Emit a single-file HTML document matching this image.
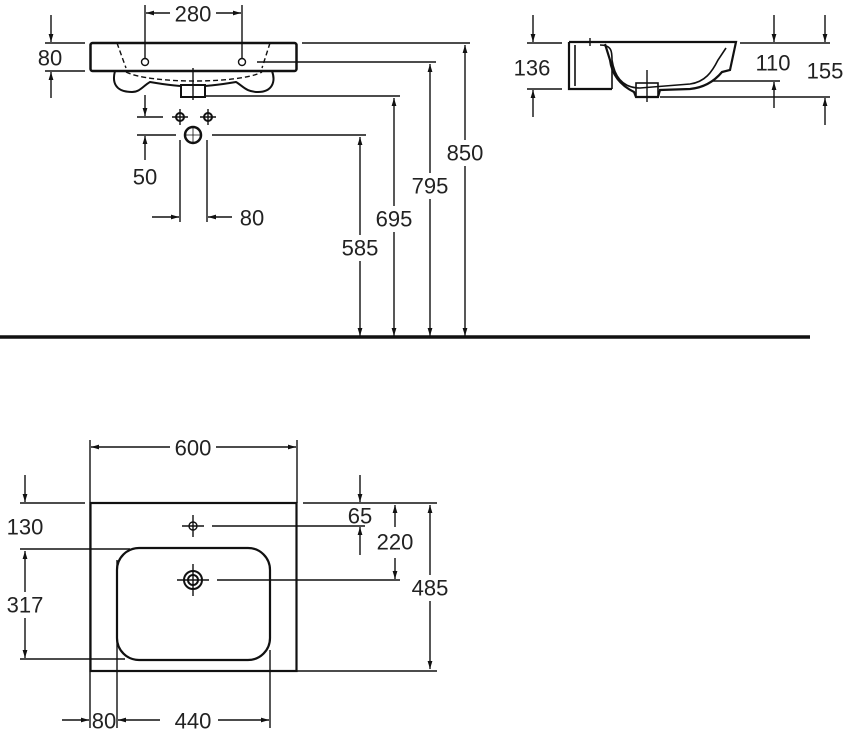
<!DOCTYPE html>
<html><head><meta charset="utf-8"><style>
html,body{margin:0;padding:0;background:#fff}
svg{display:block}
text{font-family:"Liberation Sans",sans-serif;font-size:22px;fill:#222;stroke:none;text-anchor:middle;dominant-baseline:central}
</style></head><body>
<svg width="847" height="740" viewBox="0 0 847 740" xmlns="http://www.w3.org/2000/svg">
<defs>
<marker id="a" viewBox="0 0 10 10" refX="10" refY="5" markerWidth="8" markerHeight="8" orient="auto-start-reverse" markerUnits="userSpaceOnUse"><path d="M0,2 L10,5 L0,8 z" fill="#111"/></marker>
</defs>
<g stroke="#111" fill="none" stroke-width="1.4">
<!-- top front view -->
<rect x="90.5" y="43" width="206" height="28" rx="2" stroke-width="2.5"/>
<path d="M115,71 C112,82 115,92 132,92 C140,92 143,86 150,82 C185,88 200,88 236,82 C243,86 246,92 258,92 C272,92 276,82 272,71" stroke-width="2"/>
<path d="M117,43 L126,68 M270,43 L262,68 M126,72 C150,84 240,84 262,72" stroke-dasharray="5,3"/>
<rect x="181" y="85" width="24" height="12" stroke-width="2" fill="#fff"/>
<circle cx="145" cy="62" r="3.5"/><circle cx="242" cy="62" r="3.5"/>
<path d="M193,68 V100"/>
<path d="M145,5 V58 M242,5 V58"/>
<path d="M170,13 H146" marker-end="url(#a)"/><path d="M216,13 H241" marker-end="url(#a)"/>
<path d="M45,43 H85 M45,71 H85"/>
<path d="M51,15 V42" marker-end="url(#a)"/><path d="M51,98 V72" marker-end="url(#a)"/>
<path d="M302,43 H470 M257,62 H436 M205,96 H400 M212,135 H366"/>
<path d="M465,45 V336" marker-start="url(#a)" marker-end="url(#a)"/>
<path d="M430,64 V336" marker-start="url(#a)" marker-end="url(#a)"/>
<path d="M394,98 V336" marker-start="url(#a)" marker-end="url(#a)"/>
<path d="M360,137 V336" marker-start="url(#a)" marker-end="url(#a)"/>
<path d="M0,337 H810" stroke-width="3.5"/>
<circle cx="180" cy="117" r="4" stroke-width="2"/><circle cx="208" cy="117" r="4" stroke-width="2"/>
<path d="M172,117 H188 M180,109 V125 M200,117 H216 M208,109 V125"/>
<circle cx="193" cy="135" r="8" stroke-width="2.5"/>
<path d="M186,135 H200 M193,128 V142" stroke-width="0.8"/>
<path d="M137,117 H163 M137,135 H176"/>
<path d="M145,95 V116" marker-end="url(#a)"/><path d="M145,160 V136" marker-end="url(#a)"/>
<path d="M180,140 V222 M207,140 V222"/>
<path d="M152,217 H179" marker-end="url(#a)"/><path d="M232,217 H208" marker-end="url(#a)"/>
<!-- side view -->
<path d="M569,42 H736 L730,70 L722,72 C712,84 700,88 690,89 L660,90 L658,97 L636,97 L634,92 C622,86 612,76 610,60 L605,44 M569,42 V89 H612" stroke-width="2.2"/>
<path d="M575,45 V86 M600,45 C612,45 612,52 612,60 L612,89 M612,60 C615,80 625,88 640,88 L690,84 C705,82 712,72 718,60 L726,48" stroke-width="1.6"/>
<rect x="636" y="83" width="22" height="14" stroke-width="1.6"/>
<path d="M647,70 V102 M590,38 V46"/>
<path d="M527,43 H562 M527,89 H562"/>
<path d="M533,15 V42" marker-end="url(#a)"/><path d="M533,117 V90" marker-end="url(#a)"/>
<path d="M740,43 H830 M712,81 H780 M660,97 H830"/>
<path d="M774,15 V42" marker-end="url(#a)"/><path d="M774,108 V82" marker-end="url(#a)"/>
<path d="M825,15 V42" marker-end="url(#a)"/><path d="M825,125 V98" marker-end="url(#a)"/>
<!-- bottom plan -->
<rect x="90.5" y="503" width="206" height="168" stroke-width="2.2"/>
<rect x="117" y="548" width="153" height="112" rx="22" stroke-width="2.2"/>
<circle cx="193" cy="526" r="4"/><path d="M182,526 H204 M193,515 V537"/>
<circle cx="193" cy="580" r="9" stroke-width="2"/><circle cx="193" cy="580" r="5" stroke-width="2"/>
<path d="M177,580 H209 M193,564 V596"/>
<path d="M90,440 V728 M297,440 V503 M117,560 V728 M270,650 V728"/>
<path d="M170,447 H91" marker-end="url(#a)"/><path d="M216,447 H296" marker-end="url(#a)"/>
<path d="M20,503 H85 M20,549 H130 M20,659 H125"/>
<path d="M25,475 V502" marker-end="url(#a)"/>
<path d="M25,551 V658" marker-start="url(#a)" marker-end="url(#a)"/>
<path d="M303,503 H437 M212,526 H365 M217,580 H400 M297,671 H437"/>
<path d="M360,475 V502" marker-end="url(#a)"/><path d="M360,555 V527" marker-end="url(#a)"/>
<path d="M395,527 V505" marker-end="url(#a)"/><path d="M395,558 V579" marker-end="url(#a)"/>
<path d="M430,505 V669" marker-start="url(#a)" marker-end="url(#a)"/>
<path d="M62,720 H89" marker-end="url(#a)"/>
<path d="M160,720 H118" marker-end="url(#a)"/><path d="M218,720 H269" marker-end="url(#a)"/>
</g>
<g>
<rect x="447" y="140" width="36" height="26" fill="#fff"/><text x="465" y="153">850</text>
<rect x="412" y="173" width="36" height="26" fill="#fff"/><text x="430" y="186">795</text>
<rect x="376" y="206" width="36" height="26" fill="#fff"/><text x="394" y="219">695</text>
<rect x="342" y="235" width="36" height="26" fill="#fff"/><text x="360" y="248">585</text>
<rect x="412" y="575" width="36" height="26" fill="#fff"/><text x="430" y="588">485</text>
<rect x="7" y="592" width="36" height="26" fill="#fff"/><text x="25" y="605">317</text>
<text x="193" y="14">280</text>
<text x="50" y="58">80</text>
<text x="145" y="177">50</text>
<text x="252" y="218">80</text>
<text x="532" y="68">136</text>
<text x="773" y="63">110</text>
<text x="825" y="71">155</text>
<text x="193" y="448">600</text>
<text x="25" y="527">130</text>
<text x="360" y="516">65</text>
<text x="395" y="542">220</text>
<text x="104" y="721">80</text>
<text x="193" y="721">440</text>
</g>
</svg>
</body></html>
